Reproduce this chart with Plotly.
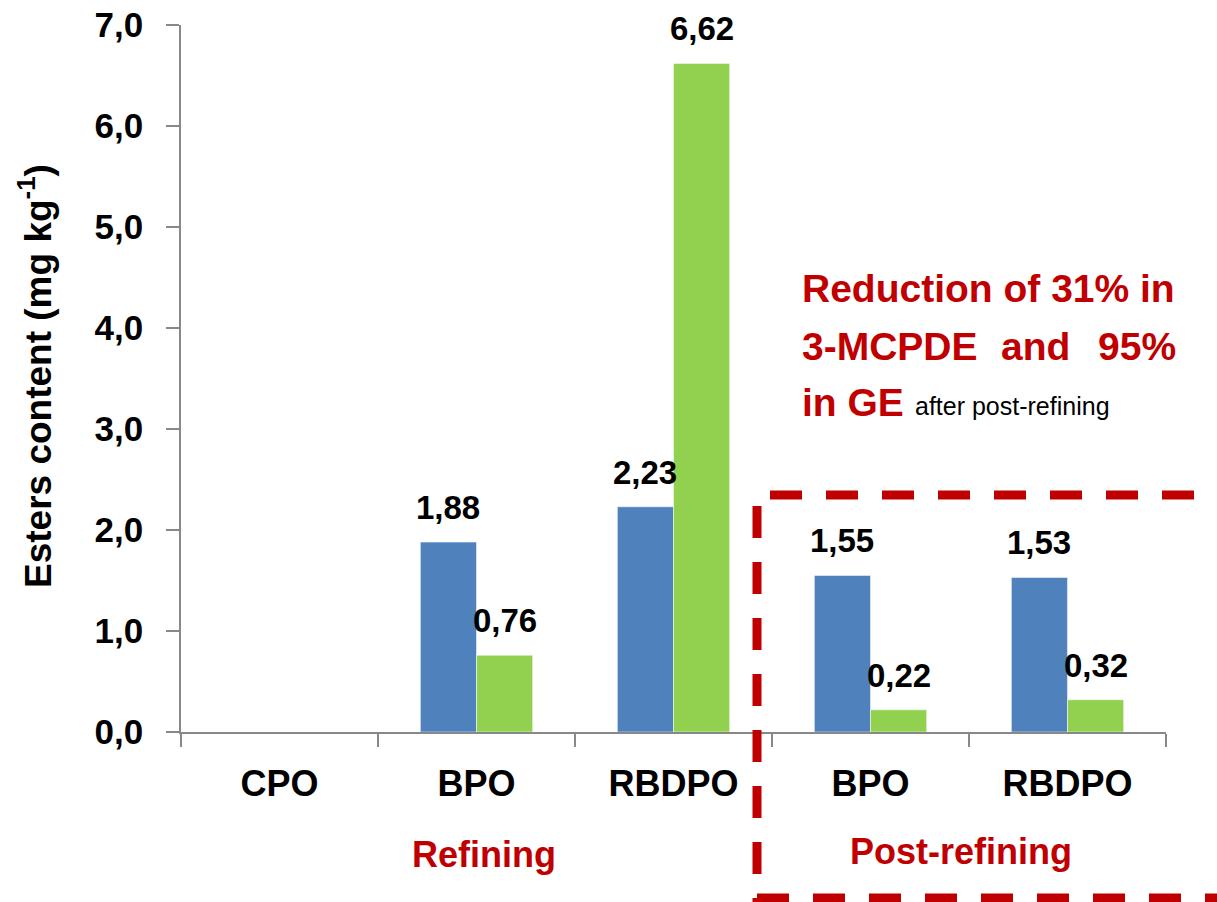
import plotly.graph_objects as go

# Ester content by processing stage (mg/kg)
categories = ["CPO", "BPO", "RBDPO", "BPO", "RBDPO"]
mcpde_3 = [None, 1.88, 2.23, 1.55, 1.53]   # 3-MCPDE
ge = [None, 0.76, 6.62, 0.22, 0.32]        # glycidyl esters
y_ticks = [0, 1, 2, 3, 4, 5, 6, 7]
y_tick_labels = ["0,0", "1,0", "2,0", "3,0", "4,0", "5,0", "6,0", "7,0"]

BLUE = "#4F81BD"
GREEN = "#92D050"
RED = "#C00000"
AXIS = "#888888"
FONT = "Liberation Sans, Arial, sans-serif"

W, H = 1217, 902
ML, MR, MT, MB = 181, 51, 25, 170
PW, PH = W - ML - MR, H - MT - MB
BARGAP = 0.43


def px(x):
    return (x - ML) / PW


def py(y):
    return (H - MB - y) / PH


xpos = list(range(len(categories)))

fig = go.Figure()
fig.add_bar(x=xpos, y=mcpde_3, marker=dict(color=BLUE, line=dict(color="rgba(255,255,255,0.5)", width=1)),
            name="3-MCPDE")
fig.add_bar(x=xpos, y=ge, marker=dict(color=GREEN, line=dict(color="rgba(255,255,255,0.5)", width=1)),
            name="GE")

annotations = []
half = (1 - BARGAP) / 4
for series, shift in ((mcpde_3, -half), (ge, half)):
    for i, v in enumerate(series):
        if v is None:
            continue
        annotations.append(dict(
            x=i + shift, y=v, xref="x", yref="y", text=f"{v:.2f}".replace(".", ","),
            showarrow=False, yanchor="bottom", xanchor="center", yshift=14,
            font=dict(family=FONT, size=33, color="black", weight="bold")))

# axis title
annotations.append(dict(
    x=px(35), y=py(376), xref="paper", yref="paper", text="Esters content (mg kg<sup>-1</sup>)",
    textangle=-90, showarrow=False, xanchor="center", yanchor="middle",
    font=dict(family=FONT, size=37, color="black", weight="bold")))

# group labels
annotations.append(dict(x=px(484), y=py(855), xref="paper", yref="paper", text="Refining",
                        showarrow=False, xanchor="center", yanchor="middle",
                        font=dict(family=FONT, size=36, color=RED, weight="bold")))
annotations.append(dict(x=px(961), y=py(851), xref="paper", yref="paper", text="Post-refining",
                        showarrow=False, xanchor="center", yanchor="middle",
                        font=dict(family=FONT, size=36, color=RED, weight="bold")))

# reduction note
note_font = dict(family=FONT, size=39, color=RED, weight="bold")
annotations += [
    dict(x=px(800), y=py(288), text="Reduction of 31% in", xanchor="left", font=note_font),
    dict(x=px(800), y=py(346), text="3-MCPDE", xanchor="left", font=note_font),
    dict(x=px(1035), y=py(346), text="and", xanchor="center", font=note_font),
    dict(x=px(1178), y=py(346), text="95%", xanchor="right", font=note_font),
    dict(x=px(800), y=py(402), text="in GE", xanchor="left", font=note_font),
    dict(x=px(913), y=py(406), text="after post-refining", xanchor="left",
         font=dict(family=FONT, size=25, color="black")),
]
for a in annotations[-6:]:
    a.update(xref="paper", yref="paper", showarrow=False, yanchor="middle")

# dashed frame around the post-refining group
dash = dict(color=RED, width=9, dash="32px,24px")
shapes = [
    dict(type="line", xref="paper", yref="paper", x0=px(770), x1=px(1240), y0=py(495), y1=py(495), line=dash),
    dict(type="line", xref="paper", yref="paper", x0=px(757), x1=px(757), y0=py(506), y1=py(910), line=dash),
    dict(type="line", xref="paper", yref="paper", x0=px(757), x1=px(1240), y0=py(898), y1=py(898), line=dash),
]

fig.update_layout(
    width=W, height=H, margin=dict(l=ML, r=MR, t=MT, b=MB, autoexpand=False),
    plot_bgcolor="white", paper_bgcolor="white", showlegend=False,
    barmode="group", bargap=BARGAP, bargroupgap=0,
    annotations=annotations, shapes=shapes,
    xaxis=dict(range=[-0.5, 4.5], tickmode="array", tickvals=xpos, ticktext=categories, ticks="",
               showline=True, linecolor=AXIS, linewidth=1.5, showgrid=False, zeroline=False,
               automargin=False, ticklabelstandoff=19,
               tickfont=dict(family=FONT, size=36, color="black", weight="bold"),
               minor=dict(tickmode="array", tickvals=[i - 0.5 for i in range(len(categories) + 1)],
                          ticks="outside", ticklen=13, tickwidth=1.5, tickcolor=AXIS, showgrid=False)),
    yaxis=dict(range=[0, 7], tickmode="array", tickvals=y_ticks, ticktext=y_tick_labels,
               ticks="outside", ticklen=13, tickwidth=1.5, tickcolor=AXIS,
               showline=True, linecolor=AXIS, linewidth=1.5, showgrid=False, zeroline=False,
               automargin=False, ticklabelstandoff=16,
               tickfont=dict(family=FONT, size=35, color="black", weight="bold")),
)

fig.write_html("out.html")
